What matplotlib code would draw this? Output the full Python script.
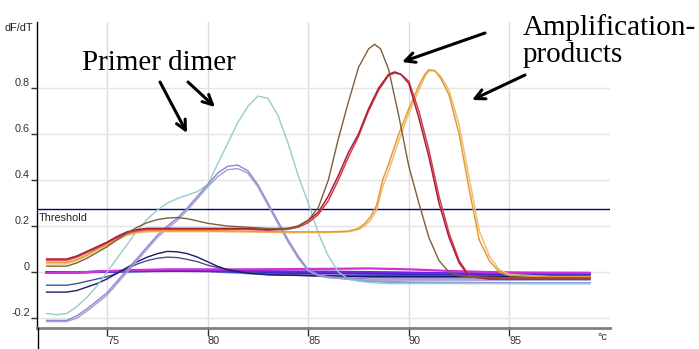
import matplotlib.pyplot as plt
from matplotlib.lines import Line2D

# melt curves (temperature in degC, dF/dT)
cyan_t = [72, 72.5, 73, 73.5, 74, 74.5, 75, 75.5, 76, 76.5, 77, 77.5, 78, 78.5, 79, 79.5, 80, 80.5, 81, 81.5,
          82, 82.5, 83, 83.5, 84, 84.5, 85, 85.5, 86, 86.5, 87, 87.5, 88, 89, 90, 92, 94, 96, 99]
cyan_y = [-0.18, -0.185, -0.18, -0.15, -0.11, -0.06, 0.0, 0.06, 0.12, 0.18, 0.23, 0.27, 0.30, 0.32, 0.335, 0.35,
          0.38, 0.47, 0.56, 0.65, 0.72, 0.765, 0.755, 0.68, 0.56, 0.42, 0.30, 0.17, 0.07, 0.0, -0.03, -0.04,
          -0.045, -0.05, -0.05, -0.05, -0.05, -0.05, -0.05]

lila_t = [72, 73, 73.5, 74, 74.5, 75, 75.5, 76, 76.5, 77, 77.5, 78, 78.5, 79, 79.5, 80, 80.5, 81, 81.5, 82,
          82.5, 83, 83.5, 84, 84.5, 85, 85.5, 86, 87, 88, 90, 95, 99]
lila1_y = [-0.21, -0.21, -0.19, -0.16, -0.125, -0.09, -0.04, 0.01, 0.06, 0.11, 0.16, 0.2, 0.235, 0.28, 0.33,
           0.38, 0.43, 0.46, 0.465, 0.44, 0.38, 0.30, 0.22, 0.14, 0.07, 0.01, -0.01, -0.02, -0.025, -0.03,
           -0.03, -0.03, -0.03]
lila2_y = [-0.215, -0.215, -0.2, -0.17, -0.135, -0.1, -0.05, 0.0, 0.05, 0.1, 0.15, 0.19, 0.225, 0.27, 0.32,
           0.37, 0.415, 0.445, 0.45, 0.43, 0.37, 0.29, 0.21, 0.13, 0.06, 0.005, -0.015, -0.025, -0.03, -0.035,
           -0.035, -0.035, -0.035]

navy_t = [72, 73, 73.5, 74, 74.5, 75, 75.5, 76, 76.5, 77, 77.5, 78, 78.5, 79, 79.5, 80, 80.5, 81, 82, 83,
          85, 88, 90, 95, 99]
navy1_y = [-0.087, -0.087, -0.08, -0.065, -0.05, -0.03, -0.005, 0.02, 0.045, 0.065, 0.08, 0.09, 0.088, 0.08,
           0.065, 0.045, 0.025, 0.01, -0.005, -0.012, -0.015, -0.02, -0.02, -0.02, -0.02]
navy2_y = [-0.057, -0.057, -0.05, -0.04, -0.03, -0.02, -0.005, 0.015, 0.035, 0.05, 0.06, 0.065, 0.063, 0.055,
           0.045, 0.03, 0.02, 0.01, 0.0, -0.01, -0.015, -0.015, -0.015, -0.015, -0.015]

brun_t = [72, 73, 73.5, 74, 74.5, 75, 75.5, 76, 76.5, 77, 77.5, 78, 78.5, 79, 79.5, 80, 81, 82, 83, 84, 84.5,
          85, 85.5, 86, 86.5, 87, 87.5, 88, 88.3, 88.6, 89, 89.5, 90, 90.5, 91, 91.5, 92, 92.5, 93, 95, 99]
brun_y = [0.026, 0.026, 0.04, 0.06, 0.085, 0.11, 0.14, 0.17, 0.195, 0.215, 0.228, 0.235, 0.237, 0.232, 0.222,
          0.212, 0.2, 0.195, 0.19, 0.19, 0.2, 0.225, 0.28, 0.40, 0.58, 0.74, 0.89, 0.97, 0.99, 0.97, 0.88, 0.68,
          0.46, 0.30, 0.15, 0.05, 0.0, -0.015, -0.02, -0.025, -0.025]

rod_t = [72, 73, 73.5, 74, 74.5, 75, 75.5, 76, 76.5, 77, 78, 79, 80, 81, 82, 83, 84, 84.5, 85, 85.5, 86, 86.5,
         87, 87.5, 88, 88.5, 89, 89.3, 89.6, 90, 90.5, 91, 91.5, 92, 92.5, 93, 94, 96, 99]
rod1_y = [0.057, 0.057, 0.07, 0.09, 0.11, 0.13, 0.155, 0.175, 0.185, 0.19, 0.19, 0.19, 0.19, 0.19, 0.19, 0.185,
          0.19, 0.2, 0.225, 0.26, 0.33, 0.42, 0.52, 0.60, 0.71, 0.80, 0.86, 0.87, 0.86, 0.82, 0.67, 0.50, 0.30,
          0.15, 0.04, -0.02, -0.03, -0.03, -0.03]
rod2_y = [0.052, 0.052, 0.065, 0.085, 0.105, 0.127, 0.15, 0.17, 0.18, 0.185, 0.186, 0.186, 0.186, 0.186, 0.186,
          0.182, 0.186, 0.195, 0.215, 0.25, 0.31, 0.40, 0.50, 0.59, 0.70, 0.79, 0.855, 0.865, 0.86, 0.83, 0.70,
          0.53, 0.33, 0.17, 0.05, -0.015, -0.03, -0.03, -0.03]

oransje_t = [72, 73, 73.5, 74, 74.5, 75, 75.5, 76, 76.5, 77, 78, 80, 82, 84, 86, 87, 87.5, 87.8, 88.1, 88.4,
             88.7, 89, 89.5, 90, 90.5, 90.8, 91, 91.3, 91.6, 92, 92.5, 93, 93.5, 94, 94.5, 95, 97, 99]
oransje1_y = [0.043, 0.043, 0.055, 0.075, 0.1, 0.12, 0.145, 0.165, 0.175, 0.18, 0.18, 0.18, 0.178, 0.175,
              0.175, 0.178, 0.19, 0.21, 0.24, 0.29, 0.40, 0.47, 0.60, 0.71, 0.81, 0.86, 0.88, 0.875, 0.84, 0.77,
              0.60, 0.36, 0.14, 0.05, 0.0, -0.015, -0.02, -0.02]
oransje2_y = [0.036, 0.036, 0.05, 0.07, 0.095, 0.115, 0.14, 0.16, 0.17, 0.175, 0.176, 0.176, 0.174, 0.172,
              0.172, 0.175, 0.185, 0.2, 0.225, 0.27, 0.37, 0.44, 0.57, 0.69, 0.79, 0.85, 0.875, 0.875, 0.85,
              0.79, 0.64, 0.41, 0.18, 0.07, 0.01, -0.01, -0.02, -0.02]

flat_t = [72, 74, 76, 78, 80, 82, 84, 86, 88, 90, 92, 94, 96, 99]
magenta_y = [-0.003, 0.0, 0.008, 0.012, 0.012, 0.012, 0.013, 0.014, 0.016, 0.012, 0.005, 0.0, -0.002, -0.003]
fiolett_y = [-0.003, 0.0, 0.005, 0.008, 0.008, 0.005, 0.003, 0.002, 0.0, -0.002, -0.005, -0.005, -0.005, -0.005]
blaa_y = [0.0, 0.0, 0.003, 0.005, 0.005, 0.0, -0.003, -0.005, -0.007, -0.008, -0.008, -0.008, -0.008, -0.008]
graa_y = [-0.002, 0.0, 0.004, 0.006, 0.004, -0.005, -0.012, -0.016, -0.02, -0.022, -0.022, -0.022, -0.022, -0.022]
lyseblaa_y = [-0.002, 0.0, 0.004, 0.006, 0.004, 0.0, -0.005, -0.02, -0.04, -0.045, -0.046, -0.047, -0.048, -0.048]

threshold = 0.274
xtikk = [75, 80, 85, 90, 95]
ytikk = [-0.2, 0, 0.2, 0.4, 0.6, 0.8]
ytikk_tekst = ["-0.2", "0", "0.2", "0.4", "0.6", "0.8"]

W, H = 699, 349
fig = plt.figure(figsize=(W / 100, H / 100), dpi=100)
ax = fig.add_axes([37 / W, 21 / H, 573 / W, 306 / H])

for v in xtikk:
    ax.axvline(v, color="#dadce4", lw=1, zorder=0)
for v in ytikk:
    ax.axhline(v, color="#e4e4e4", lw=1, zorder=0)

ax.axhline(threshold, color="#000080", lw=1)

# flate linjer rundt null
ax.plot(flat_t, lyseblaa_y, color="#8c9cd4", lw=1.6)
ax.plot(flat_t, graa_y, color="#8a82ae", lw=1.6)
ax.plot(flat_t, blaa_y, color="#2030e0", lw=1.6)
ax.plot(flat_t, fiolett_y, color="#7a22d8", lw=1.6)
ax.plot(flat_t, magenta_y, color="#d030d8", lw=1.6)

ax.plot(navy_t, navy2_y, color="#4a4e90", lw=1)
ax.plot(navy_t, navy1_y, color="#1c1c6c", lw=1)
ax.plot(cyan_t, cyan_y, color="#96cccc", lw=1)
ax.plot(lila_t, lila1_y, color="#8f84c8", lw=1)
ax.plot(lila_t, lila2_y, color="#a49cd8", lw=1)

ax.plot(oransje_t, oransje2_y, color="#e8c078", lw=1.1)
ax.plot(oransje_t, oransje1_y, color="#e89a30", lw=1.1)
ax.plot(rod_t, rod2_y, color="#d04050", lw=1.1)
ax.plot(rod_t, rod1_y, color="#b01c38", lw=1.1)
ax.plot(brun_t, brun_y, color="#7d5f3c", lw=1)

ax.set_xlim(71.52, 100.0)
ax.set_ylim(-0.243, 1.087)

ax.spines["top"].set_visible(False)
ax.spines["right"].set_visible(False)
ax.spines["left"].set_color("black")
ax.spines["left"].set_linewidth(1)
ax.spines["bottom"].set_color("#808080")
ax.spines["bottom"].set_linewidth(2)
fig.add_artist(Line2D([37.5 / W, 37.5 / W], [0, 21 / H], color="black", lw=1, transform=fig.transFigure))

ax.set_xticks(xtikk)
ax.set_xticklabels([str(v) for v in xtikk], ha="left", fontsize=7.8, family="Liberation Sans", color="#303030")
ax.set_yticks(ytikk)
ax.set_yticklabels(ytikk_tekst, va="bottom", fontsize=7.8, family="Liberation Sans", color="#303030")
ax.tick_params(axis="x", length=6, width=1, color="#303030", pad=0)
ax.tick_params(axis="y", length=4, width=1, color="#303030", pad=1)

ax.text(71.6, threshold - 0.015, "Threshold", ha="left", va="top", fontsize=7.8, family="Liberation Sans",
        color="#202020")
fig.text(33 / W, 1 - 28 / H, "dF/dT", ha="right", va="center", fontsize=7.8, family="Liberation Sans",
         color="#202020")
fig.text(597 / W, 1 - 337 / H, "°c", ha="left", va="center", fontsize=7.8, family="Liberation Sans",
         color="#303030")

serif = ["Liberation Serif", "DejaVu Serif"]
fig.text(82 / W, 1 - 70 / H, "Primer dimer", fontsize=21, family=serif, va="baseline")
fig.text(523 / W, 1 - 35 / H, "Amplification-", fontsize=21, family=serif, va="baseline")
fig.text(523 / W, 1 - 62 / H, "products", fontsize=21, family=serif, va="baseline")

piler = [((160, 82), (187, 133)), ((188, 82), (215, 107)), ((485, 33), (402, 62)), ((525, 75), (472, 100))]
for start, slutt in piler:
    ax.annotate("", xy=(slutt[0], H - slutt[1]), xycoords="figure pixels",
                xytext=(start[0], H - start[1]), textcoords="figure pixels",
                arrowprops=dict(arrowstyle="->,head_length=0.7,head_width=0.35", color="black", lw=2.2,
                                shrinkA=0, shrinkB=0))

fig.savefig("out.png", dpi=100)
